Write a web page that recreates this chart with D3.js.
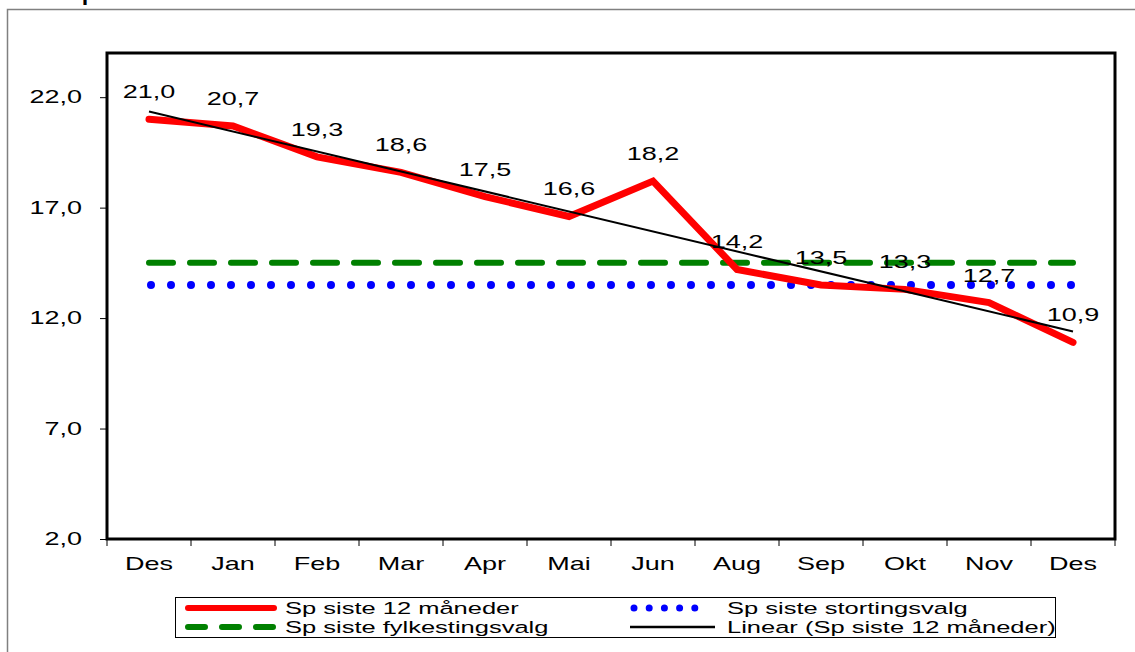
<!DOCTYPE html>
<html>
<head>
<meta charset="utf-8">
<script src="https://cdn.jsdelivr.net/npm/d3@7/dist/d3.min.js"></script>
<style>
  html, body { margin: 0; padding: 0; background: #fff; }
  svg { display: block; }
  text { font-family: "Liberation Sans", Arial, sans-serif; fill: #000; }
</style>
</head>
<body>
<svg id="chart" width="1135" height="652"></svg>
<script>
// ---- Data ----
const categories = ["Des", "Jan", "Feb", "Mar", "Apr", "Mai", "Jun", "Aug", "Sep", "Okt", "Nov", "Des"];
const sp12 = [21.0, 20.7, 19.3, 18.6, 17.5, 16.6, 18.2, 14.2, 13.5, 13.3, 12.7, 10.9];
const spStorting = 13.5;
const spFylkesting = 14.5;
const yTicks = [2, 7, 12, 17, 22];
const legendLabels = ["Sp siste 12 måneder", "Sp siste stortingsvalg", "Sp siste fylkestingsvalg", "Linear (Sp siste 12 måneder)"];

const SX = 1.5; // horizontal text stretch seen in the reference
const fmt = v => v.toFixed(1).replace(".", ",");

const svg = d3.select("#chart");

// outer chart frame
svg.append("rect").attr("x", 7.5).attr("y", 9.5).attr("width", 1140).attr("height", 660)
  .attr("fill", "none").attr("stroke", "#808080").attr("stroke-width", 1.5);

// clipped title fragment at the very top
svg.append("text").attr("transform", `translate(57,0) scale(${SX},1)`)
  .attr("font-size", 24).text("Sp");

const L = 107, T = 53, R = 1115, B = 539;
const x = d3.scaleBand().domain(d3.range(categories.length)).range([L, R]);
const cx = i => x(i) + x.bandwidth() / 2;
const y = d3.scaleLinear().domain([2, 24]).range([B, T]);

function stretch(sel) {
  sel.each(function () {
    const t = d3.select(this);
    const tx = +t.attr("x") || 0;
    const ty = +t.attr("y") || 0;
    t.attr("x", 0).attr("y", 0).attr("transform", `translate(${tx},${ty}) scale(${SX},1)`);
  });
}

// Y axis
const yAxis = svg.append("g").attr("transform", `translate(${L},0)`)
  .call(d3.axisLeft(y).tickValues(yTicks).tickSize(7).tickPadding(18).tickFormat(fmt));
yAxis.select(".domain").remove();
yAxis.selectAll("line").attr("stroke", "#000");
yAxis.selectAll("text").attr("font-size", 18).attr("font-family", "Liberation Sans, Arial, sans-serif").call(stretch);

// X axis labels
const xAxis = svg.append("g").attr("transform", `translate(0,${B})`)
  .call(d3.axisBottom(x).tickSize(0).tickPadding(18).tickFormat(i => categories[i]));
xAxis.select(".domain").remove();
xAxis.selectAll("text").attr("font-size", 18).attr("font-family", "Liberation Sans, Arial, sans-serif").call(stretch);
// X tick marks at band edges
const edges = d3.range(categories.length).map(i => x(i)).concat([x(categories.length - 1) + x.bandwidth()]);
svg.append("g").selectAll("line").data(edges).join("line")
  .attr("x1", d => d).attr("x2", d => d).attr("y1", B).attr("y2", B + 7)
  .attr("stroke", "#000").attr("stroke-width", 1);

// plot border
svg.append("rect").attr("x", L).attr("y", T).attr("width", R - L).attr("height", B - T)
  .attr("fill", "none").attr("stroke", "#000").attr("stroke-width", 3);

// Fylkestingsvalg (green dashed)
const idx = d3.range(categories.length);
svg.append("line").attr("x1", cx(0)).attr("x2", cx(idx.length - 1))
  .attr("y1", y(spFylkesting)).attr("y2", y(spFylkesting))
  .attr("stroke", "#008000").attr("stroke-width", 6).attr("stroke-linecap", "round")
  .attr("stroke-dasharray", "24,17");

// Stortingsvalg (blue dotted)
svg.append("line").attr("x1", cx(0) + 2).attr("x2", cx(idx.length - 1))
  .attr("y1", y(spStorting)).attr("y2", y(spStorting))
  .attr("stroke", "#0000ff").attr("stroke-width", 8).attr("stroke-linecap", "round")
  .attr("stroke-dasharray", "0,20");

// Red series
const line = d3.line().x((d, i) => cx(i)).y(d => y(d));
svg.append("path").datum(sp12).attr("d", line)
  .attr("fill", "none").attr("stroke", "#ff0000").attr("stroke-width", 7)
  .attr("stroke-linecap", "round").attr("stroke-linejoin", "miter");

// Linear trend (least squares on the series)
const n = sp12.length;
const xs = idx.map(i => i + 1);
const mx = d3.mean(xs), my = d3.mean(sp12);
const slope = d3.sum(xs, (v, i) => (v - mx) * (sp12[i] - my)) / d3.sum(xs, v => (v - mx) * (v - mx));
const icpt = my - slope * mx;
svg.append("line")
  .attr("x1", cx(0)).attr("y1", y(icpt + slope * 1))
  .attr("x2", cx(n - 1)).attr("y2", y(icpt + slope * n))
  .attr("stroke", "#000").attr("stroke-width", 2);

// Data labels
svg.append("g").selectAll("text").data(sp12).join("text")
  .attr("x", (d, i) => cx(i)).attr("y", d => y(d) - 21)
  .attr("text-anchor", "middle").attr("font-size", 18)
  .text(d => fmt(d)).call(stretch);

// Legend
const lg = svg.append("g");
lg.append("rect").attr("x", 175.5).attr("y", 597.5).attr("width", 880).attr("height", 40)
  .attr("fill", "#fff").attr("stroke", "#000").attr("stroke-width", 1);
const r1 = 608, r2 = 627;
lg.append("line").attr("x1", 188).attr("x2", 274).attr("y1", r1).attr("y2", r1)
  .attr("stroke", "#ff0000").attr("stroke-width", 6).attr("stroke-linecap", "round");
lg.append("line").attr("x1", 188).attr("x2", 274).attr("y1", r2).attr("y2", r2)
  .attr("stroke", "#008000").attr("stroke-width", 6).attr("stroke-linecap", "round")
  .attr("stroke-dasharray", "17,17");
lg.append("line").attr("x1", 634).attr("x2", 695).attr("y1", r1).attr("y2", r1)
  .attr("stroke", "#0000ff").attr("stroke-width", 7).attr("stroke-linecap", "round")
  .attr("stroke-dasharray", "0,15.2");
lg.append("line").attr("x1", 630).attr("x2", 715).attr("y1", r2).attr("y2", r2)
  .attr("stroke", "#000").attr("stroke-width", 2.5);
const legPos = [[285, r1 + 6], [727, r1 + 6], [285, r2 + 6], [727, r2 + 6]];
lg.selectAll("text.leg").data(legendLabels).join("text").attr("class", "leg")
  .attr("x", (d, i) => legPos[i][0]).attr("y", (d, i) => legPos[i][1])
  .attr("font-size", 17).text(d => d).call(stretch);
</script>
</body>
</html>
